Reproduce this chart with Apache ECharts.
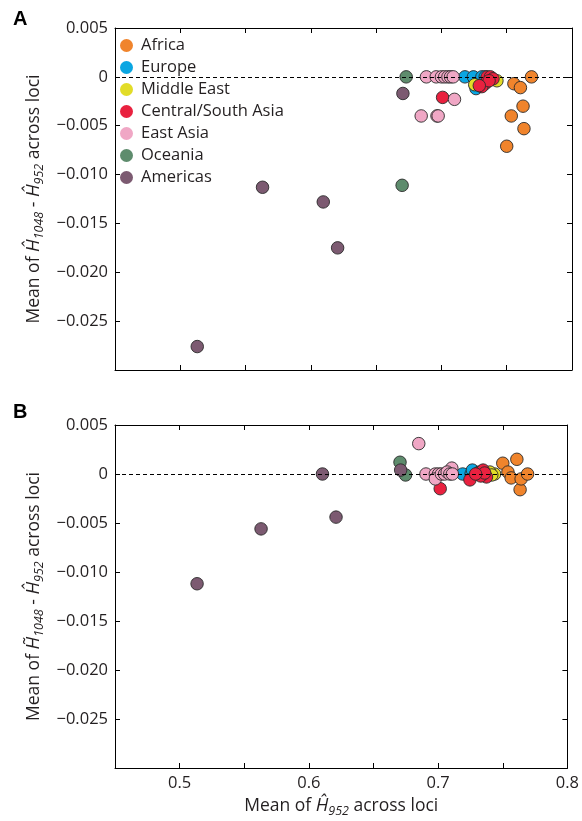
<!DOCTYPE html>
<html>
<head>
<meta charset="utf-8">
<script src="https://cdn.jsdelivr.net/npm/echarts@6/dist/echarts.min.js"></script>
<style>html,body{margin:0;padding:0;background:#fff}#c{width:582px;height:821px}</style>
</head>
<body>
<div id="c"></div>
<script>
// ---- data ----
const regions = ['Africa','Europe','Middle East','Central/South Asia','East Asia','Oceania','Americas'];
const colors = ['#F0842C','#0AA6E2','#E2DC28','#E9213F','#F0A7C5','#5E8C6D','#7C5A71'];

// Panel A: [mean H952, mean(H1048 - H952)]
const A_africa  = [[0.7500,-0.0071],[0.7535,-0.0040],[0.7555,-0.0007],[0.7605,-0.0011],[0.7625,-0.0030],[0.7632,-0.0053],[0.7690,0.0000]];
const A_europe  = [[0.7180,0.0000],[0.7245,0.0000],[0.7310,0.0000],[0.7265,-0.0012],[0.7335,0.0000]];
const A_mideast = [[0.7255,-0.0008],[0.7425,-0.0004],[0.7385,-0.0002]];
const A_csasia  = [[0.7009,-0.0021],[0.7335,-0.0007],[0.7350,0.0000],[0.7375,0.0000],[0.7395,-0.0002],[0.7310,-0.0010],[0.7365,-0.0004],[0.7290,-0.0009]];
const A_easia   = [[0.6845,-0.0040],[0.6966,-0.0040],[0.6975,-0.0040],[0.7100,-0.0023],[0.6885,0.0000],[0.6960,0.0000],[0.7000,0.0000],[0.7025,0.0000],[0.7050,0.0000],[0.7070,0.0000],[0.7090,0.0000]];
const A_oceania = [[0.6730,0.0000],[0.6699,-0.0111]];
const A_americas= [[0.5130,-0.0276],[0.5630,-0.0113],[0.6095,-0.0128],[0.6205,-0.0175],[0.6705,-0.0017]];

// Panel B: [mean H952, mean(H~1048 - H952)]
const B_africa  = [[0.7500,0.0011],[0.7540,0.0002],[0.7565,-0.0004],[0.7609,0.0015],[0.7634,-0.0016],[0.7642,-0.0005],[0.7692,0.0000]];
const B_europe  = [[0.7190,0.0000],[0.7255,0.0000],[0.7265,0.0004],[0.7320,0.0002],[0.7350,0.0000]];
const B_mideast = [[0.7437,0.0000],[0.7400,0.0002],[0.7415,-0.0001]];
const B_csasia  = [[0.7016,-0.0015],[0.7246,-0.0006],[0.7310,0.0001],[0.7348,0.0004],[0.7374,-0.0003],[0.7330,-0.0002],[0.7360,0.0001],[0.7290,0.0000]];
const B_easia   = [[0.6850,0.0031],[0.6906,0.0000],[0.6978,0.0000],[0.7003,0.0000],[0.6978,-0.0005],[0.7106,0.0006],[0.7025,0.0000],[0.7050,0.0000],[0.7070,0.0002],[0.7090,0.0000],[0.7110,0.0000]];
const B_oceania = [[0.6705,0.0012],[0.6748,-0.0001]];
const B_americas= [[0.5135,-0.0112],[0.5630,-0.0056],[0.6105,0.0000],[0.6210,-0.0044],[0.6710,0.0004]];

const xMin = 0.45, xMax = 0.8, xStep = 0.05;
const yMin = -0.03, yMax = 0.005, yStep = 0.005;

const panelA = [A_africa,A_europe,A_mideast,A_csasia,A_easia,A_oceania,A_americas];
const panelB = [B_africa,B_europe,B_mideast,B_csasia,B_easia,B_oceania,B_americas];

// ---- chart ----
const FONT = 'Open Sans';
const TXT = '#231F20';
const LBL = 16.5;
const NM = 17.5;
function xFmt(v){ const r = Math.round(v*100); return (r%10===0 && r>=50) ? (r/100).toFixed(1) : ''; }
function yFmt(v){ const r = Math.round(v*1000); if(r===0) return '0'; if(r<=-30) return ''; if(r>0) return (r/1000).toFixed(3); return '\u2212'+(Math.abs(r)/1000).toFixed(3); }

const richName = {
  it:{fontStyle:'italic', fontSize:NM+1, fontFamily:FONT, color:TXT, lineHeight:24},
  sub:{fontStyle:'italic', fontSize:NM-5, fontFamily:FONT, color:TXT, verticalAlign:'bottom', lineHeight:24},
  n:{fontSize:NM, fontFamily:FONT, color:TXT, lineHeight:24}
};

function xAx(grid, pos, showLabel, name){
  return {type:'value', gridIndex:grid, position:pos, min:xMin, max:xMax, interval:xStep,
    axisLine:{show:true, onZero:false, lineStyle:{color:'#000', width:1}},
    axisTick:{show:true, inside:true, length:5, lineStyle:{color:'#000'}},
    splitLine:{show:false},
    axisLabel:{show:showLabel, formatter:xFmt, color:TXT, fontFamily:FONT, fontSize:LBL, margin:7},
    name:name||'', nameLocation:'middle', nameGap:26,
    nameTextStyle:{color:TXT, fontFamily:FONT, fontSize:NM, rich:richName}
  };
}
function yAx(grid, pos, showLabel, name){
  return {type:'value', gridIndex:grid, position:pos, min:yMin, max:yMax, interval:yStep,
    axisLine:{show:true, onZero:false, lineStyle:{color:'#000', width:1}},
    axisTick:{show:true, inside:true, length:5, lineStyle:{color:'#000'}},
    splitLine:{show:false},
    axisLabel:{show:showLabel, formatter:yFmt, color:TXT, fontFamily:FONT, fontSize:LBL, margin:7},
    name:name||'', nameLocation:'middle', nameGap:65, nameRotate:90,
    nameTextStyle:{color:TXT, fontFamily:FONT, fontSize:NM, rich:richName}
  };
}

const nameA = '{n|Mean of }{it|\u0124}{sub|1048}{n| - }{it|\u0124}{sub|952}{n| across loci}';
const nameB = '{n|Mean of }{it|H\u0303}{sub|1048}{n| - }{it|\u0124}{sub|952}{n| across loci}';
const nameX = '{n|Mean of }{it|\u0124}{sub|952}{n| across loci}';

const series = [];
[panelA, panelB].forEach((panel, g) => {
  series.push({type:'scatter', name:'zero'+g, xAxisIndex:g*2, yAxisIndex:g*2, data:[], z:1, silent:true,
    markLine:{silent:true, symbol:'none', label:{show:false},
      lineStyle:{type:[4,3], color:'#000', width:1}, data:[{yAxis:0}]}});
  panel.forEach((d, i) => {
    series.push({type:'scatter', name:regions[i], xAxisIndex:g*2, yAxisIndex:g*2, data:d,
      symbol:'circle', symbolSize:12.5, z:2,
      itemStyle:{color:colors[i], borderColor:'#2a2a2a', borderWidth:0.9, opacity:1}});
  });
});

const chart = echarts.init(document.getElementById('c'), null, {renderer:'canvas'});
chart.setOption({
  animation:false,
  backgroundColor:'#fff',
  title:[
    {text:'A', left:8, top:4, textStyle:{fontFamily:'Liberation Sans', fontWeight:'bold', fontSize:20, color:'#000'}},
    {text:'B', left:8, top:397, textStyle:{fontFamily:'Liberation Sans', fontWeight:'bold', fontSize:20, color:'#000'}}
  ],
  legend:{data:regions, orient:'vertical', left:115, top:32, itemWidth:13, itemHeight:13, itemGap:5,
    icon:'circle', textStyle:{color:TXT, fontFamily:FONT, fontSize:LBL, lineHeight:17, padding:[0,0,0,3]},
    itemStyle:{borderWidth:0}},
  grid:[
    {left:115, top:28, width:457, height:342},
    {left:115, top:425, width:457, height:343}
  ],
  xAxis:[xAx(0,'bottom',false), xAx(0,'top',false), xAx(1,'bottom',true,nameX), xAx(1,'top',false)],
  yAxis:[yAx(0,'left',true,nameA), yAx(0,'right',false), yAx(1,'left',true,nameB), yAx(1,'right',false)],
  series:series
});
</script>
</body>
</html>
